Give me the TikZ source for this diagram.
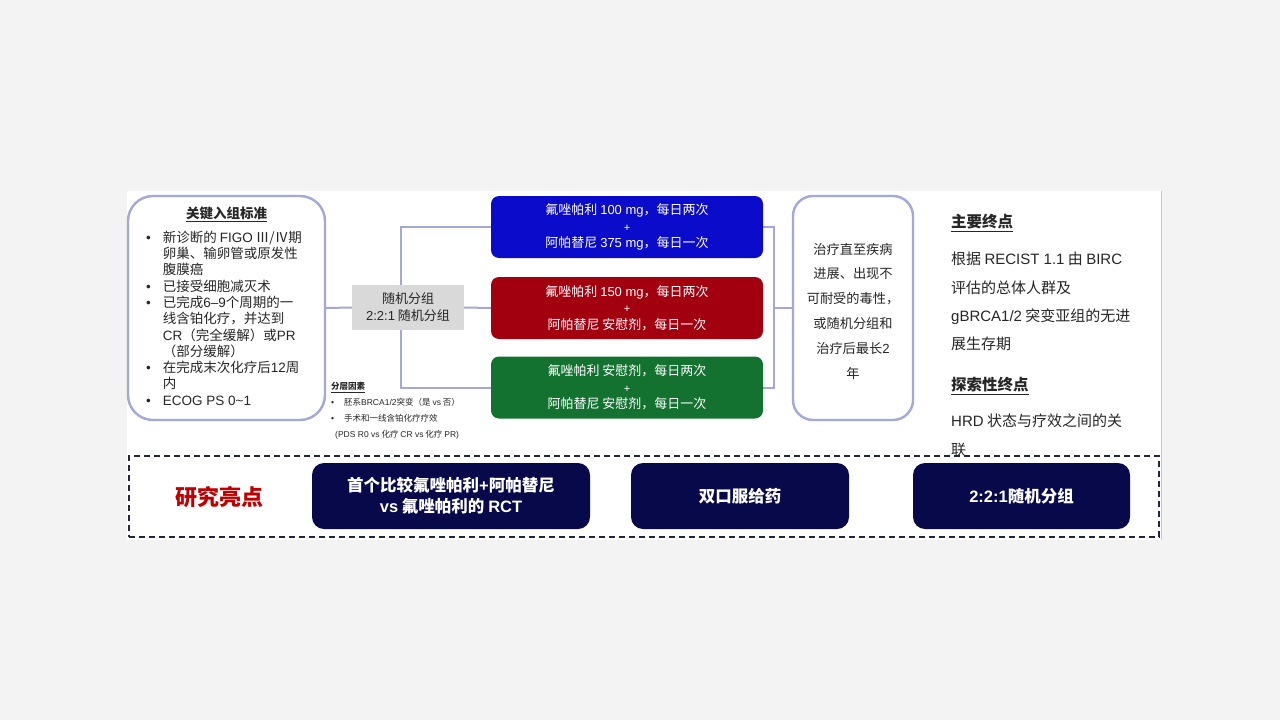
\documentclass[tikz,border=0pt]{standalone}
\usepackage{fontspec}
\setmainfont{Noto Sans CJK SC}
\newfontfamily\latfont{Liberation Sans}
\newcommand{\la}[1]{{\latfont #1}}
\newcommand{\bul}{{\latfont\textbullet}}
\definecolor{bgc}{HTML}{F3F3F3}
\definecolor{lav}{HTML}{A3A7DA}
\definecolor{randgray}{HTML}{D9D9D9}
\definecolor{armblue}{HTML}{0B0BCC}
\definecolor{armred}{HTML}{A3000F}
\definecolor{armgreen}{HTML}{137230}
\definecolor{navy}{HTML}{07094A}
\definecolor{dashc}{HTML}{1E2442}
\definecolor{txt}{HTML}{262626}
\definecolor{hlred}{HTML}{C00000}
\newcommand{\myfs}[2]{\fontsize{#1}{#2}\selectfont}
\pgfdeclarelayer{back}
\pgfdeclarelayer{bg}
\pgfsetlayers{back,bg,main}
\begin{document}
\begin{tikzpicture}[x=1pt,y=-1pt,
  roundbox/.style={draw=lav, line width=2.4pt, fill=white, inner sep=0pt},
  armbox/.style={fill=#1, rounded corners=8pt, minimum width=272pt, minimum height=62pt,
     text=white, align=center, inner sep=0pt, font=\myfs{13}{16.5}},
  navybox/.style={fill=navy, rounded corners=12pt, minimum height=66pt, text=white,
     font=\bfseries\myfs{16.5}{21}, align=center, inner sep=0pt},
  conn/.style={draw=lav, line width=2pt},
  plain/.style={inner sep=0pt, text=txt}]
\useasboundingbox (0,0) rectangle (1280,720);
\begin{pgfonlayer}{back}
  \fill[bgc] (0,0) rectangle (1280,720);
  \fill[white] (127,191) rectangle (1161,540);
  \draw[gray!45, line width=1pt] (1161,191) -- (1161,540);
\end{pgfonlayer}

% left criteria box
\node[roundbox, rounded corners=25pt, minimum width=197pt, minimum height=224pt] (crit) at (226.5,308) {};
\node[plain, font=\bfseries\myfs{13.5}{16}] (crittitle) at (226.5,214) {\underline{关键入组标准}};
\node[plain, anchor=west, font=\myfs{13.5}{16.1}] (critlist) at (146,320.5) {%
\begin{tabular}{@{}l@{\hspace{12pt}}l@{}}
\bul & 新诊断的 \la{FIGO} Ⅲ/Ⅳ期\\
 & 卵巢、输卵管或原发性\\
 & 腹膜癌\\
\bul & 已接受细胞减灭术\\
\bul & 已完成\la{6–9}个周期的一\\
 & 线含铂化疗，并达到\\
 & \la{CR}（完全缓解）或\la{PR}\\
 & （部分缓解）\\
\bul & 在完成末次化疗后\la{12}周\\
 & 内\\
\bul & \la{ECOG PS 0\textasciitilde1}
\end{tabular}};

% randomisation
\node[fill=randgray, minimum width=112pt, minimum height=45pt, inner sep=0pt, align=center,
      text=txt, font=\myfs{13}{17}] (rand) at (408,307.5) {随机分组\\\la{2:2:1} 随机分组};

% arms
\node[armbox=armblue] (blue) at (627,227) {氟唑帕利 \la{100 mg}，每日两次\\{\latfont\myfs{11}{16.5}+}\\阿帕替尼 \la{375 mg}，每日一次};
\node[armbox=armred] (red) at (627,308) {氟唑帕利 \la{150 mg}，每日两次\\{\latfont\myfs{11}{16.5}+}\\阿帕替尼 安慰剂，每日一次};
\node[armbox=armgreen] (green) at (627,387.5) {氟唑帕利 安慰剂，每日两次\\{\latfont\myfs{11}{16.5}+}\\阿帕替尼 安慰剂，每日一次};

% response box
\node[roundbox, rounded corners=20pt, minimum width=120pt, minimum height=224pt] (resp) at (853,308) {};
\node[plain, align=center, font=\myfs{13.2}{24.8}] (resptext) at (853,311)
  {治疗直至疾病\\进展、出现不\\可耐受的毒性，\\或随机分组和\\治疗后最长\la{2}\\年};

% connectors
\coordinate (splitL) at (401,308);
\coordinate (splitR) at (774,308);
\begin{pgfonlayer}{bg}
  \draw[conn] (crit.east) -- (rand.west);
  \draw[conn] (rand.east) -- (red.west);
  \draw[conn] (blue.west) -| (splitL) |- (green.west);
  \draw[conn] (blue.east) -| (splitR) |- (green.east);
  \draw[conn] (splitR) -- (resp.west);
\end{pgfonlayer}

% stratification
\node[plain, anchor=north west, font=\myfs{8.5}{16}] (strat) at (331,378) {%
\begin{tabular}{@{}l@{\hspace{10pt}}l@{}}
\multicolumn{2}{@{}l}{\bfseries\underline{分层因素}}\\
\bul & 胚系\la{BRCA1/2}突变（是 \la{vs} 否）\\
\bul & 手术和一线含铂化疗疗效\\
\multicolumn{2}{@{}l}{\hspace{4pt}\la{(PDS R0 vs} 化疗 \la{CR vs} 化疗 \la{PR)}}
\end{tabular}};

% endpoints
\node[plain, anchor=west, font=\bfseries\myfs{15.5}{18}] (ep1t) at (951,223) {\underline{主要终点}};
\node[plain, anchor=west, align=left, font=\myfs{15}{28.3}] (ep1b) at (951,301.5)
  {根据 \la{RECIST 1.1} 由 \la{BIRC}\\评估的总体人群及\\\la{gBRCA1/2} 突变亚组的无进\\展生存期};
\node[plain, anchor=west, font=\bfseries\myfs{15.5}{18}] (ep2t) at (951,386) {\underline{探索性终点}};
\node[plain, anchor=west, align=left, font=\myfs{15}{29}] (ep2b) at (951,435.5)
  {\la{HRD} 状态与疗效之间的关\\联};

% highlights
\node[draw=dashc, line width=2.2pt, dash pattern=on 6pt off 4pt, minimum width=1030pt,
      minimum height=81pt, inner sep=0pt] (hl) at (644,496.5) {};
\node[inner sep=0pt, text=hlred, font=\bfseries\myfs{22}{24}] (hltitle) at (219,497) {研究亮点};
\node[navybox, minimum width=278pt] (h1) at (451,496) {首个比较氟唑帕利\la{+}阿帕替尼\\\la{vs} 氟唑帕利的 \la{RCT}};
\node[navybox, minimum width=218pt] (h2) at (740,496) {双口服给药};
\node[navybox, minimum width=217pt] (h3) at (1021.5,496) {\la{2:2:1}随机分组};
\end{tikzpicture}
\end{document}
